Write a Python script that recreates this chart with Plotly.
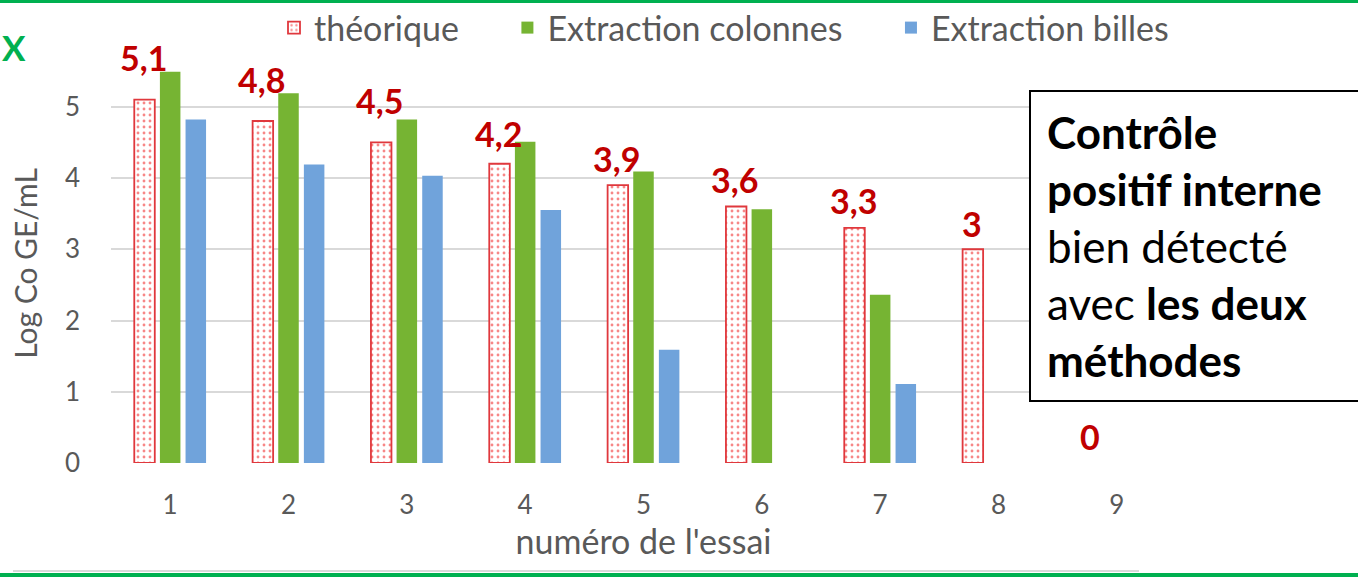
import plotly.graph_objects as go

# ---- données ----
essais = [1, 2, 3, 4, 5, 6, 7, 8, 9]
theorique = [5.1, 4.8, 4.5, 4.2, 3.9, 3.6, 3.3, 3.0, 0]
extraction_colonnes = [5.49, 5.19, 4.82, 4.51, 4.09, 3.56, 2.36, None, None]
extraction_billes = [4.82, 4.19, 4.03, 3.55, 1.59, None, 1.11, None, None]

# décalage vertical (px) des étiquettes rouges, placées à la main dans l'original
label_lift = [42, 42, 42, 30, 27, 27, 27, 26, 27]

FONT = "Lato"
GRIS = "#595959"
ROUGE = "#C00000"
VERT_CADRE = "#00B050"
NBSP = "\u00a0"

# géométrie de la zone de tracé (pixels)
L, R, T, B = 111, 182, 64, 114
W_PLOT = 1358 - L - R
H_PLOT = 577 - T - B


def px_x(px):
    return (px - L) / W_PLOT


def px_y(py):
    return (577 - B - py) / H_PLOT


fig = go.Figure()

fig.add_trace(
    go.Bar(
        name="théorique" + NBSP * 5,
        x=essais,
        y=theorique,
        marker=dict(
            color="white",
            line=dict(color="#E0383D", width=[0 if v == 0 else 1.8 for v in theorique]),
            pattern=dict(shape=".", fgcolor="#F01010", bgcolor="white", size=6, solidity=0.18),
        ),
    )
)

fig.add_trace(
    go.Bar(
        name="Extraction colonnes" + NBSP * 5,
        x=essais,
        y=extraction_colonnes,
        marker=dict(color="#76B433", line=dict(width=0)),
    )
)

fig.add_trace(
    go.Bar(
        name="Extraction billes",
        x=essais,
        y=extraction_billes,
        marker=dict(color="#70A3DB", line=dict(width=0)),
    )
)

# étiquettes rouges au-dessus des barres théoriques
for e, v, lift in zip(essais, theorique, label_lift):
    fig.add_annotation(
        x=e,
        y=v,
        xref="x",
        yref="y",
        text=f"<b>{v:g}</b>".replace(".", ","),
        showarrow=False,
        xshift=-27,
        yshift=lift,
        xanchor="center",
        yanchor="middle",
        font=dict(family=FONT, size=34, color=ROUGE),
    )

# encadré de texte
fig.add_annotation(
    xref="paper",
    yref="paper",
    x=px_x(1029),
    y=px_y(90),
    xanchor="left",
    yanchor="top",
    text="<b>Contrôle<br>positif interne</b><br>bien détecté<br>avec <b>les deux<br>méthodes</b>",
    align="left",
    valign="middle",
    showarrow=False,
    width=297,
    height=276,
    borderpad=16,
    bordercolor="black",
    borderwidth=2,
    bgcolor="white",
    font=dict(family=FONT, size=44, color="black"),
)

# X vert en haut à gauche
fig.add_annotation(
    xref="paper",
    yref="paper",
    x=px_x(0),
    y=px_y(47),
    xanchor="left",
    yanchor="middle",
    text="<b>X</b>",
    showarrow=False,
    font=dict(family=FONT, size=35, color=VERT_CADRE),
)

shapes = [
    dict(type="line", xref="paper", yref="paper", x0=px_x(0), x1=px_x(1358),
         y0=px_y(1.5), y1=px_y(1.5), line=dict(color=VERT_CADRE, width=3)),
    dict(type="line", xref="paper", yref="paper", x0=px_x(13), x1=px_x(1139),
         y0=px_y(571), y1=px_y(571), line=dict(color="#D9D9D9", width=2)),
    dict(type="line", xref="paper", yref="paper", x0=px_x(0), x1=px_x(1358),
         y0=px_y(575), y1=px_y(575), line=dict(color=VERT_CADRE, width=4)),
]

fig.update_layout(
    width=1358,
    height=577,
    margin=dict(l=L, r=R, t=T, b=B, autoexpand=False),
    paper_bgcolor="white",
    plot_bgcolor="white",
    barmode="group",
    bargap=0.35,
    bargroupgap=0.2,
    font=dict(family=FONT, color=GRIS),
    shapes=shapes,
    legend=dict(
        orientation="h",
        x=px_x(274),
        y=px_y(28),
        xanchor="left",
        yanchor="middle",
        font=dict(family=FONT, size=34, color=GRIS),
        bgcolor="rgba(0,0,0,0)",
    ),
)

fig.update_xaxes(
    range=[0.5, 9.5],
    tickmode="array",
    tickvals=essais,
    ticktext=[str(e) for e in essais],
    tickfont=dict(size=26, color=GRIS),
    ticks="",
    ticklabelstandoff=24,
    showgrid=False,
    showline=False,
    zeroline=False,
    title=dict(text="numéro de l'essai", font=dict(size=34, color=GRIS), standoff=11),
)

fig.update_yaxes(
    range=[0, 5.6],
    tickvals=[0, 1, 2, 3, 4, 5],
    tickfont=dict(size=26, color=GRIS),
    ticks="",
    ticklabelstandoff=30,
    showgrid=True,
    gridcolor="#D9D9D9",
    gridwidth=2,
    zeroline=False,
    showline=False,
    title=dict(text="Log Co GE/mL", font=dict(size=30, color=GRIS), standoff=18),
)

fig.write_html(
    "out.html",
    config={"displayModeBar": False},
    post_script="document.body.style.margin='0px';",
)
